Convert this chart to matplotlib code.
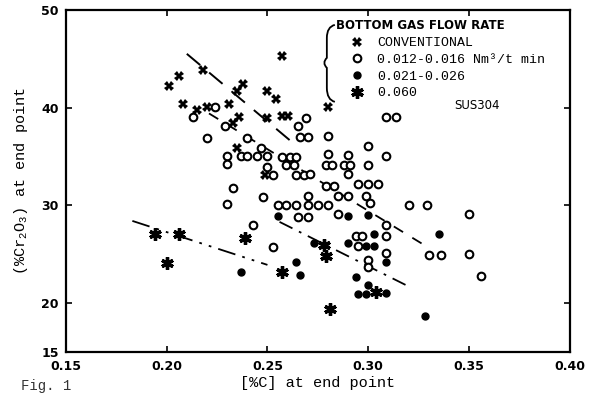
import matplotlib
matplotlib.use("Agg")
import matplotlib.pyplot as plt
from matplotlib.path import Path
from matplotlib.patches import PathPatch
from matplotlib.lines import Line2D

plt.rcParams['mathtext.fontset'] = 'custom'
plt.rcParams['mathtext.rm'] = 'Liberation Mono'

# conventional blowing
conv_x = [0.201, 0.206, 0.218, 0.208, 0.215, 0.220, 0.231, 0.235, 0.238, 0.250,
          0.254, 0.257, 0.236, 0.233, 0.250, 0.257, 0.260, 0.235, 0.249, 0.280]
conv_y = [42.2, 43.2, 43.8, 40.4, 39.7, 40.1, 40.4, 41.7, 42.4, 41.7,
          40.9, 45.3, 39.0, 38.4, 38.9, 39.1, 39.1, 35.9, 33.1, 40.1]

# 0.012-0.016 Nm3/t min
low_x = [0.224, 0.213, 0.229, 0.220, 0.240, 0.247, 0.230, 0.230, 0.237, 0.240,
         0.245, 0.250, 0.250, 0.253, 0.233, 0.248, 0.230, 0.255, 0.259, 0.243,
         0.253, 0.265, 0.269, 0.266, 0.270, 0.280, 0.300, 0.309, 0.309, 0.314,
         0.257, 0.261, 0.264, 0.280, 0.290, 0.259, 0.263, 0.279, 0.282, 0.288,
         0.291, 0.300, 0.290, 0.264, 0.268, 0.271, 0.295, 0.300, 0.305, 0.279,
         0.283, 0.270, 0.285, 0.290, 0.299, 0.301, 0.320, 0.329, 0.264, 0.270,
         0.275, 0.280, 0.265, 0.270, 0.285, 0.309, 0.294, 0.297, 0.309, 0.350,
         0.295, 0.309, 0.300, 0.300, 0.330, 0.336, 0.350, 0.356]
low_y = [40.1, 39.0, 38.1, 36.9, 36.9, 35.9, 35.0, 34.2, 35.0, 35.0,
         35.0, 35.0, 33.9, 33.1, 31.8, 30.8, 30.1, 30.0, 30.0, 28.0,
         25.7, 38.1, 38.9, 37.0, 37.0, 37.1, 36.1, 35.0, 39.0, 39.0,
         34.9, 34.9, 34.9, 35.2, 35.1, 34.1, 34.1, 34.1, 34.1, 34.1,
         34.1, 34.1, 33.2, 33.1, 33.1, 33.2, 32.2, 32.2, 32.2, 32.0,
         32.0, 31.0, 30.9, 30.9, 30.9, 30.2, 30.0, 30.0, 30.0, 30.0,
         30.0, 30.0, 28.8, 28.8, 29.1, 28.0, 26.9, 26.9, 26.9, 29.1,
         25.8, 25.1, 24.4, 23.7, 24.9, 24.9, 25.0, 22.8]

# 0.021-0.026
mid_x = [0.237, 0.255, 0.264, 0.266, 0.273, 0.290, 0.300, 0.303, 0.335, 0.290,
         0.299, 0.303, 0.309, 0.294, 0.300, 0.295, 0.299, 0.309, 0.328]
mid_y = [23.2, 28.9, 24.2, 22.9, 26.1, 28.9, 29.0, 27.1, 27.1, 26.1,
         25.8, 25.8, 24.2, 22.7, 21.8, 20.9, 20.9, 21.0, 18.7]

# 0.060
high_x = [0.194, 0.206, 0.200, 0.239, 0.257, 0.278, 0.279, 0.281, 0.304]
high_y = [27.1, 27.1, 24.1, 26.6, 23.2, 25.9, 24.8, 19.4, 21.1]

# trend lines (end points)
conv_line_x = [0.210, 0.262]
conv_line_y = [45.5, 36.5]
low_line_x = [0.221, 0.328]
low_line_y = [39.4, 25.9]
mid_line_x = [0.256, 0.319]
mid_line_y = [28.3, 21.8]
high_line_x = [0.183, 0.250]
high_line_y = [28.4, 23.9]

fig = plt.figure(figsize=(5.93, 3.94), dpi=100)
ax = fig.add_axes([0.111, 0.107, 0.850, 0.868])

ax.plot(conv_line_x, conv_line_y, color='black', lw=1.4, dashes=(9, 6))
ax.plot(low_line_x, low_line_y, color='black', lw=1.3, dashes=(6, 6))
ax.plot(mid_line_x, mid_line_y, color='black', lw=1.3, dashes=(8, 4, 1.5, 4))
ax.plot(high_line_x, high_line_y, color='black', lw=1.3, dashes=(10, 4, 1.5, 4, 1.5, 4))

ax.plot(conv_x, conv_y, ls='none', marker='X', ms=6.5, color='black', mew=0)
ax.plot(low_x, low_y, ls='none', marker='o', ms=5.5, mfc='white', mec='black', mew=1.5)
ax.plot(mid_x, mid_y, ls='none', marker='o', ms=5, color='black')
ax.plot(high_x, high_y, ls='none', marker=(6, 2, 0), ms=9, color='black', mew=2.4)

ax.set_xlim(0.15, 0.40)
ax.set_ylim(15, 50)
ax.set_xticks([0.15, 0.20, 0.25, 0.30, 0.35, 0.40])
ax.set_xticklabels(['0.15', '0.20', '0.25', '0.30', '0.35', '0.40'])
ax.set_yticks([15, 20, 30, 40, 50])
ax.tick_params(direction='in', top=True, right=True, length=4, width=1.2,
               labelsize=9)
ax.tick_params(axis='x', pad=6)
ax.tick_params(axis='y', pad=5)
for lab in ax.get_xticklabels() + ax.get_yticklabels():
    lab.set_fontweight('bold')
for s in ax.spines.values():
    s.set_linewidth(1.6)

ax.set_xlabel('[%C] at end point', family='Liberation Mono', fontsize=11, labelpad=2)
ax.set_ylabel('(%Cr$_2$O$_3$) at end point', family='Liberation Mono', fontsize=11,
              labelpad=8)

# legend
handles = [
    Line2D([], [], ls='none', marker='X', ms=6.5, color='black', mew=0),
    Line2D([], [], ls='none', marker='o', ms=5.5, mfc='white', mec='black', mew=1.5),
    Line2D([], [], ls='none', marker='o', ms=5, color='black'),
    Line2D([], [], ls='none', marker=(6, 2, 0), ms=9, color='black', mew=2.4),
]
labels = ['CONVENTIONAL', '0.012-0.016 Nm\u00b3/t min', '0.021-0.026', '0.060']
leg = ax.legend(handles, labels, loc='upper left', bbox_to_anchor=(0.565, 0.92),
                frameon=False, handlelength=1.0, handletextpad=1.0,
                labelspacing=0.33, borderpad=0, borderaxespad=0,
                prop={'family': 'Liberation Mono', 'size': 9.5})

ax.text(0.536, 0.955, 'BOTTOM GAS FLOW RATE', transform=ax.transAxes,
        fontsize=8.5, fontweight='bold', va='center', ha='left')
ax.text(0.77, 0.72, 'SUS304', transform=ax.transAxes, fontsize=8.5, va='center')

# curly brace next to legend
def px(x, y):
    return ((x - 66) / 504, (352 - y) / 342)

pts = [(335, 25), (327, 27), (327, 38), (327, 58), (322, 63),
       (327, 68), (327, 88), (327, 100), (335, 102)]
codes = [Path.MOVETO, Path.CURVE3, Path.CURVE3, Path.LINETO, Path.CURVE3,
         Path.CURVE3, Path.LINETO, Path.CURVE3, Path.CURVE3]
brace = Path([px(*p) for p in pts], codes)
ax.add_patch(PathPatch(brace, transform=ax.transAxes, fill=False, lw=1.3,
                       edgecolor='black', clip_on=False))

fig.text(0.035, 0.003, 'Fig. 1', family='Liberation Mono', fontsize=10,
         va='bottom', color='#333333')

fig.savefig('out.png', dpi=100)
